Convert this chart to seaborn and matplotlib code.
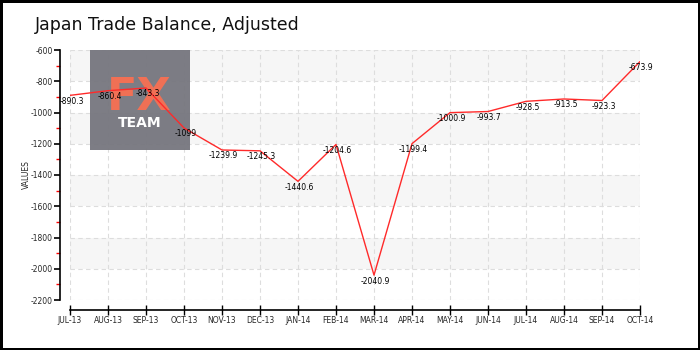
import matplotlib
matplotlib.use("Agg")
import matplotlib.pyplot as plt
from matplotlib.patches import Rectangle
from matplotlib.ticker import MultipleLocator
import numpy as np
import pandas as pd
import seaborn as sns

months = ["JUL-13", "AUG-13", "SEP-13", "OCT-13", "NOV-13", "DEC-13", "JAN-14", "FEB-14",
          "MAR-14", "APR-14", "MAY-14", "JUN-14", "JUL-14", "AUG-14", "SEP-14", "OCT-14"]
balance = [-890.3, -860.4, -843.3, -1099, -1239.9, -1245.3, -1440.6, -1204.6,
           -2040.9, -1199.4, -1000.9, -993.7, -928.5, -913.5, -923.3, -673.9]
labels = ["-890.3", "-860.4", "-843.3", "-1099", "-1239.9", "-1245.3", "-1440.6", "-1204.6",
          "-2040.9", "-1199.4", "-1000.9", "-993.7", "-928.5", "-913.5", "-923.3", "-673.9"]
y_ticks = [-2200, -2000, -1800, -1600, -1400, -1200, -1000, -800, -600]

sns.set_theme(style="white")
plt.rcParams["font.family"] = ["DejaVu Sans"]
plt.rcParams["axes.unicode_minus"] = False

df = pd.DataFrame({"pos": np.arange(len(months)), "value": balance})

fig = plt.figure(figsize=(7, 3.5), dpi=100, edgecolor="black", linewidth=2.5)
ax = fig.add_axes([70 / 700, 1 - 300 / 350, 570 / 700, 250 / 350])

# alternating horizontal bands
for lo in (-800, -1200, -1600, -2000):
    ax.axhspan(lo, lo + 200, color="#f6f6f6", zorder=0, lw=0)

sns.lineplot(data=df, x="pos", y="value", ax=ax, color="#ff2a2a", lw=1.0, zorder=3)

for x, v, t in zip(df["pos"], balance, labels):
    ax.annotate(t, (x, v), xytext=(1, -1), textcoords="offset points",
                ha="center", va="top", fontsize=5.5, color="black", zorder=4)

ax.set_xlim(0, len(months) - 1)
ax.set_ylim(min(y_ticks), max(y_ticks))
ax.set_xticks(df["pos"])
ax.set_yticks(y_ticks)

ax.grid(True, which="major", color="#dddddd", linestyle=(0, (4, 3)), lw=0.8)
ax.set_axisbelow(True)

sns.despine(ax=ax, offset=7, trim=True)
ax.set_xticks(df["pos"])
ax.set_xticklabels(months)
ax.set_yticks(y_ticks)
ax.set_yticklabels([str(v) for v in y_ticks])
ax.yaxis.set_minor_locator(MultipleLocator(100))

ax.tick_params(axis="y", which="major", direction="out", length=4, width=1.2,
               color="black", labelsize=5.5, pad=1.5, left=True)
ax.tick_params(axis="y", which="minor", direction="out", length=3, width=1,
               color="#ff0000", left=True)
ax.tick_params(axis="x", which="major", direction="inout", length=7, width=1,
               color="black", labelsize=5.5, pad=1.0, bottom=True)

ax.set_xlabel("")
ax.set_ylabel("VALUES", fontsize=5.5, labelpad=0)

for s in ("left", "bottom"):
    ax.spines[s].set_color("black")
    ax.spines[s].set_linewidth(1.2)

# watermark logo
ax.add_patch(Rectangle((90 / 700, 1 - 150 / 350), 100 / 700, 100 / 350,
                       transform=fig.transFigure, facecolor="#76767e", alpha=0.95,
                       lw=0, zorder=2, clip_on=False))
ax.text(139 / 700, 1 - 110 / 350, "FX", ha="center", va="baseline", fontsize=32,
        fontweight="bold", color="#f07055", zorder=2.5, transform=fig.transFigure)
ax.text(140 / 700, 1 - 127 / 350, "TEAM", ha="center", va="baseline", fontsize=10,
        fontweight="bold", color="white", zorder=2.5, transform=fig.transFigure)

fig.text(35 / 700, 1 - 30 / 350, "Japan Trade Balance, Adjusted", ha="left",
         va="baseline", fontsize=12.5, color="#111111")

fig.savefig("out.png", dpi=100, edgecolor=fig.get_edgecolor())
